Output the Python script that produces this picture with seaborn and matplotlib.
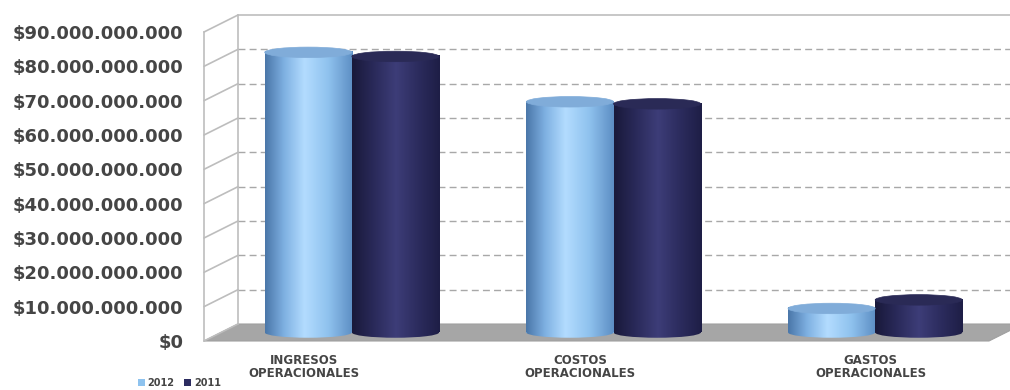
import numpy as np
import pandas as pd
import matplotlib
matplotlib.use("Agg")
import matplotlib.pyplot as plt
import seaborn as sns
from matplotlib.colors import LinearSegmentedColormap
from matplotlib.patches import Ellipse, Polygon
from matplotlib.lines import Line2D
from matplotlib.transforms import ScaledTranslation, IdentityTransform

# ---------------- data ----------------
categories = ["INGRESOS\nOPERACIONALES", "COSTOS\nOPERACIONALES", "GASTOS\nOPERACIONALES"]
series_names = ["2012", "2011"]
values_2012 = [81.6e9, 67.2e9, 7.0e9]
values_2011 = [80.4e9, 66.6e9, 9.5e9]
ytick_values = [0, 10e9, 20e9, 30e9, 40e9, 50e9, 60e9, 70e9, 80e9, 90e9]
ytick_labels = ["$0", "$10.000.000.000", "$20.000.000.000", "$30.000.000.000",
                "$40.000.000.000", "$50.000.000.000", "$60.000.000.000",
                "$70.000.000.000", "$80.000.000.000", "$90.000.000.000"]

df = pd.DataFrame({
    "category": categories * 2,
    "year": [series_names[0]] * 3 + [series_names[1]] * 3,
    "value": values_2012 + values_2011,
})

# ---------------- style ----------------
sns.set_theme(style="white")
plt.rcParams["font.family"] = ["DejaVu Sans"]
TEXT = "#454545"
GRID = "#a8a8a8"
EDGE = "#bdbdbd"
base_colors = {"2012": "#8ec3ef", "2011": "#2c2c60"}
top_colors = {"2012": "#80acd9", "2011": "#2a2a56"}
cmaps = {
    "2012": LinearSegmentedColormap.from_list(
        "c12", [(0, "#4a76a8"), (0.22, "#7fb1e2"), (0.45, "#b3dcff"),
                (0.72, "#8fc2ee"), (1, "#5d8ec4")]),
    "2011": LinearSegmentedColormap.from_list(
        "c11", [(0, "#19193a"), (0.25, "#2a2a5a"), (0.5, "#3d3d78"),
                (0.75, "#2c2c5e"), (1, "#1e1e46")]),
}

DPI = 100
fig = plt.figure(figsize=(10.10, 3.90), dpi=DPI)
ax_left, ax_right = 204, 989
ax_bottom_px, ax_top_px = 341, 32
ax = fig.add_axes([ax_left / 1010, (390 - ax_bottom_px) / 390,
                   (ax_right - ax_left) / 1010, (ax_bottom_px - ax_top_px) / 390])
ax.patch.set_visible(False)

sns.barplot(data=df, x="category", y="value", hue="year", hue_order=series_names,
            order=categories, palette=base_colors, width=0.666, gap=0,
            saturation=1, edgecolor="none", linewidth=0, ax=ax, zorder=2)

YMAX = 90e9
ax.set_xlim(-0.5, 2.5)
ax.set_ylim(0, YMAX)

# 3D offsets (pixels)
DX, DY = 34, 17
back_off = ax.transData + ScaledTranslation(DX / DPI, DY / DPI, fig.dpi_scale_trans)
mid_off = ax.transData + ScaledTranslation(DX / 2 / DPI, DY / 2 / DPI, fig.dpi_scale_trans)

px_to_data = YMAX / (ax_bottom_px - ax_top_px)
ell_h = 10.5 * px_to_data
grad = np.linspace(0, 1, 256).reshape(1, -1)

for cont, name in zip(ax.containers, series_names):
    for bar in cont:
        x0, w, h = bar.get_x(), bar.get_width(), bar.get_height()
        cx = x0 + w / 2
        bar.set_transform(mid_off)
        # body shading
        ax.imshow(grad, extent=(x0, x0 + w, 0, h), aspect="auto", cmap=cmaps[name],
                  transform=mid_off, zorder=2.1, interpolation="bicubic")
        # rounded base
        base = Ellipse((cx, 0), w, ell_h, transform=mid_off, facecolor="none",
                       edgecolor="none")
        ax.add_patch(base)
        im = ax.imshow(grad, extent=(x0, x0 + w, -ell_h / 2, ell_h / 2), aspect="auto",
                       cmap=cmaps[name], transform=mid_off, zorder=2.05,
                       interpolation="bicubic")
        im.set_clip_path(base)
        # top face
        ax.add_patch(Ellipse((cx, h), w, ell_h, transform=mid_off,
                             facecolor=top_colors[name], edgecolor=top_colors[name],
                             linewidth=0.5, zorder=2.3))

ax.set_xlim(-0.5, 2.5)
ax.set_ylim(0, YMAX)

# back wall gridlines and frame
for v in ytick_values[1:-1]:
    ax.plot([-0.5, 2.5], [v, v], transform=back_off, color=GRID, lw=1.0,
            ls=(0, (5, 3)), zorder=0.6, clip_on=False)
ax.plot([-0.5, 2.5], [YMAX, YMAX], transform=back_off, color=EDGE, lw=1.2,
        zorder=0.6, clip_on=False)
ax.plot([-0.5, -0.5], [0, YMAX], transform=back_off, color=EDGE, lw=1.2,
        zorder=0.6, clip_on=False)

# diagonal connectors and floor
fig.canvas.draw()
for v in ytick_values:
    p0 = ax.transData.transform((-0.5, v))
    ax.add_line(Line2D([p0[0], p0[0] + DX], [p0[1], p0[1] + DY], color=EDGE, lw=1.2,
                       transform=IdentityTransform(), clip_on=False, zorder=0.7))
f0 = ax.transData.transform((-0.5, 0))
f1 = ax.transData.transform((2.5, 0))
floor = Polygon([f0, f1, (f1[0] + DX, f1[1] + DY), (f0[0] + DX, f0[1] + DY)],
                closed=True, facecolor="#a6a6a6", edgecolor="#a0a0a0", lw=0.8,
                transform=IdentityTransform(), clip_on=False, zorder=0.5)
ax.add_patch(floor)

# axes / ticks
for s in ["top", "right", "bottom"]:
    ax.spines[s].set_visible(False)
ax.spines["left"].set_color(EDGE)
ax.spines["left"].set_linewidth(1.2)
ax.set_yticks(ytick_values)
ax.set_yticklabels(ytick_labels)
ax.tick_params(axis="y", length=4, width=1.0, color=EDGE, pad=11,
               labelsize=13, labelcolor=TEXT)
for lab in ax.get_yticklabels():
    lab.set_fontweight("bold")

label_shift = [-0.118, -0.062, 0.047]
ax.set_xticks(np.arange(len(categories)) + np.array(label_shift))
ax.set_xticklabels(categories, fontsize=8.5, fontweight="bold", color=TEXT,
                   linespacing=1.05)
ax.tick_params(axis="x", length=0, pad=9)
ax.set_xlabel("")
ax.set_ylabel("")
ax.grid(False)

sns.move_legend(ax, loc="lower left", bbox_to_anchor=(136 / 1010, 0.0),
                bbox_transform=fig.transFigure, ncol=2, frameon=False, title=None,
                fontsize=7, handlelength=0.7, handleheight=0.7,
                handletextpad=0.3, columnspacing=1.0, borderpad=0.2,
                borderaxespad=0.0)
for t in ax.get_legend().get_texts():
    t.set_fontweight("bold")
    t.set_color(TEXT)

fig.savefig("out.png", dpi=DPI)
